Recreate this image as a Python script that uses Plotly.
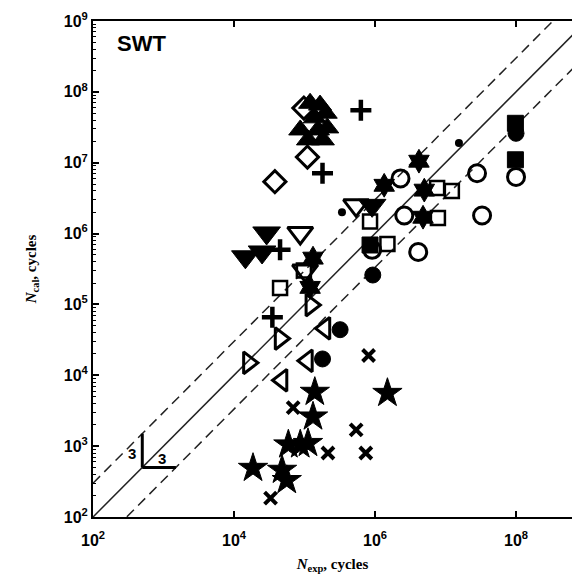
import math
import plotly.graph_objects as go

# ---------------- data (N_exp, N_cal) ----------------
diam_x = [3.8e4, 9.8e4, 1.1e5]
diam_y = [5.4e6, 5.9e7, 1.2e7]

triup_x = [1.2e5, 1.66e5, 2.0e5, 8.7e4, 1.12e5, 1.55e5, 1.82e5, 2.1e5, 1.4e5]
triup_y = [6.9e7, 6.5e7, 5.0e7, 2.9e7, 2.1e7, 2.9e7, 2.1e7, 3.1e7, 4.3e7]

plus_x = [6.3e5, 1.8e5, 4.5e4, 3.5e4]
plus_y = [5.5e7, 7.1e6, 5.9e5, 6.6e4]

tridn_open_x = [8.7e4, 5.4e5, 1.02e5]
tridn_open_y = [1.02e6, 2.5e6, 3.0e5]

tridn_fill_x = [2.9e4, 1.45e4, 2.5e4, 9.1e5]
tridn_fill_y = [1.02e6, 4.7e5, 5.5e5, 2.5e6]

sq_open_x = [4.5e4, 8.5e5, 1.5e6, 7.6e6, 1.23e7, 7.8e6, 9.8e4]
sq_open_y = [1.7e5, 1.48e6, 7.1e5, 4.4e6, 4.0e6, 1.66e6, 3.0e5]

circ_open_x = [2.3e6, 2.8e7, 1.0e8, 2.6e6, 3.3e7, 9.1e5, 4.1e6]
circ_open_y = [6.0e6, 7.1e6, 6.3e6, 1.8e6, 1.8e6, 5.9e5, 5.5e5]

sq_fill_x = [9.8e7, 9.8e7, 8.5e5]
sq_fill_y = [3.6e7, 1.1e7, 6.9e5]

circ_fill_x = [1.0e8, 9.3e5, 1.8e5, 3.2e5]
circ_fill_y = [2.6e7, 2.6e5, 1.7e4, 4.4e4]

dot_x = [1.55e7, 3.4e5]
dot_y = [1.9e7, 2.0e6]

hexa_x = [4.2e6, 1.35e6, 5.0e6, 4.8e6, 1.32e5, 1.2e5]
hexa_y = [1.05e7, 4.8e6, 4.1e6, 1.7e6, 4.5e5, 1.74e5]

trir_x = [4.5e4, 1.6e4, 1.23e5]
trir_y = [3.3e4, 1.5e4, 9.8e4]

tril_x = [4.8e4, 1.1e5, 1.95e5]
tril_y = [8.5e3, 1.6e4, 4.6e4]

star_x = [1.86e4, 4.8e4, 5.6e4, 5.9e4, 8.7e4, 1.12e5, 1.4e5, 1.32e5, 1.5e6]
star_y = [4.9e2, 4.6e2, 3.3e2, 1.05e3, 1.05e3, 1.1e3, 5.8e3, 2.6e3, 5.6e3]

x_x = [3.3e4, 6.9e4, 2.15e5, 5.4e5, 7.4e5, 8.1e5]
x_y = [1.85e2, 3.5e3, 8.0e2, 1.7e3, 8.0e2, 1.9e4]

# reference lines: N_cal = N_exp, 3*N_exp, N_exp/3
line_x = [1e2, 1e9]
band_factor = 3.0

# slope-triangle indicator (corner and factor)
tri_corner = 500.0
x_ticks = [1e2, 1e4, 1e6, 1e8]
y_ticks = [1e2, 1e3, 1e4, 1e5, 1e6, 1e7, 1e8, 1e9]

# ---------------- figure ----------------
fig = go.Figure()

fig.add_trace(go.Scatter(x=line_x, y=line_x, mode="lines",
                         line=dict(color="#222", width=1.5)))
fig.add_trace(go.Scatter(x=line_x, y=[v * band_factor for v in line_x], mode="lines",
                         line=dict(color="#222", width=1.5, dash="10px,6px")))
fig.add_trace(go.Scatter(x=line_x, y=[v / band_factor for v in line_x], mode="lines",
                         line=dict(color="#222", width=1.5, dash="10px,6px")))

# slope triangle
fig.add_trace(go.Scatter(x=[tri_corner, tri_corner], y=[tri_corner, tri_corner * band_factor],
                         mode="lines", line=dict(color="black", width=3)))
fig.add_trace(go.Scatter(x=[tri_corner, tri_corner * band_factor], y=[tri_corner, tri_corner],
                         mode="lines", line=dict(color="black", width=3)))

def add(xs, ys, symbol, size, lw=0, color="black"):
    fig.add_trace(go.Scatter(
        x=xs, y=ys, mode="markers",
        marker=dict(symbol=symbol, size=size, color=color,
                    line=dict(color="black", width=lw))))

add(triup_x, triup_y, "triangle-up", 20, 1)
add(diam_x, diam_y, "diamond-open", 17, 3)
add(plus_x, plus_y, "cross-thin", 15, 4.5)
add(tridn_fill_x, tridn_fill_y, "triangle-down", 24, 1)
add(tridn_open_x, tridn_open_y, "triangle-down-open", 22, 3)
add(sq_open_x, sq_open_y, "square-open", 14, 2.5)
add(circ_open_x, circ_open_y, "circle-open", 17, 3)
add(sq_fill_x, sq_fill_y, "square", 16, 1)
add(circ_fill_x, circ_fill_y, "circle", 16, 1)
add(dot_x, dot_y, "circle", 8, 0)
add(hexa_x, hexa_y, "hexagram", 18, 1)
add(trir_x, trir_y, "triangle-right-open", 19, 3)
add(tril_x, tril_y, "triangle-left-open", 19, 3)
add(star_x, star_y, "star", 22, 1)
add(x_x, x_y, "x-thin", 12, 4)

def sup(v):
    return "<b>10<sup>%d</sup></b>" % round(math.log10(v))

minor_vals = [m * 10 ** k for k in range(2, 9) for m in range(2, 10)]

fig.update_layout(
    width=572, height=581,
    margin=dict(l=93, r=0, t=21, b=64),
    paper_bgcolor="white", plot_bgcolor="white",
    showlegend=False,
    font=dict(family="Liberation Sans, Arial", color="black"),
    xaxis=dict(type="log", range=[2, 8.794],
               tickvals=x_ticks, ticktext=[sup(v) for v in x_ticks],
               ticks="inside", ticklen=6, tickwidth=1.5, tickcolor="black",
               ticklabelstandoff=8,
               showline=True, linecolor="black", linewidth=2, mirror="ticks",
               showgrid=False, zeroline=False,
               tickfont=dict(size=16, family="Liberation Sans, Arial"),
               title=dict(text="<b><i>N</i><sub>exp</sub>, cycles</b>",
                          font=dict(family="Liberation Serif, Times New Roman", size=15),
                          standoff=10)),
    yaxis=dict(type="log", range=[2, 9],
               tickvals=y_ticks, ticktext=[sup(v) for v in y_ticks],
               ticks="inside", ticklen=6, tickwidth=1.5, tickcolor="black",
               minor=dict(tickvals=minor_vals, ticks="inside", ticklen=3,
                          tickcolor="black", tickwidth=1, showgrid=False),
               showline=True, linecolor="black", linewidth=2, mirror=False,
               showgrid=False, zeroline=False,
               tickfont=dict(size=16, family="Liberation Sans, Arial"),
               title=dict(text="<b><i>N</i><sub>cal</sub>, cycles</b>",
                          font=dict(family="Liberation Serif, Times New Roman", size=15),
                          standoff=24)),
    annotations=[
        dict(text="<b>SWT</b>", xref="paper", yref="paper", x=0.045, y=0.955,
             xanchor="left", yanchor="middle", showarrow=False,
             font=dict(size=22, family="Liberation Sans, Arial", color="black")),
        dict(text="<b>3</b>", x=2.55, y=2.9, xref="x", yref="y", showarrow=False,
             font=dict(size=15)),
        dict(text="<b>3</b>", x=2.98, y=2.83, xref="x", yref="y", showarrow=False,
             font=dict(size=15)),
    ],
)

fig.write_html("out.html")
